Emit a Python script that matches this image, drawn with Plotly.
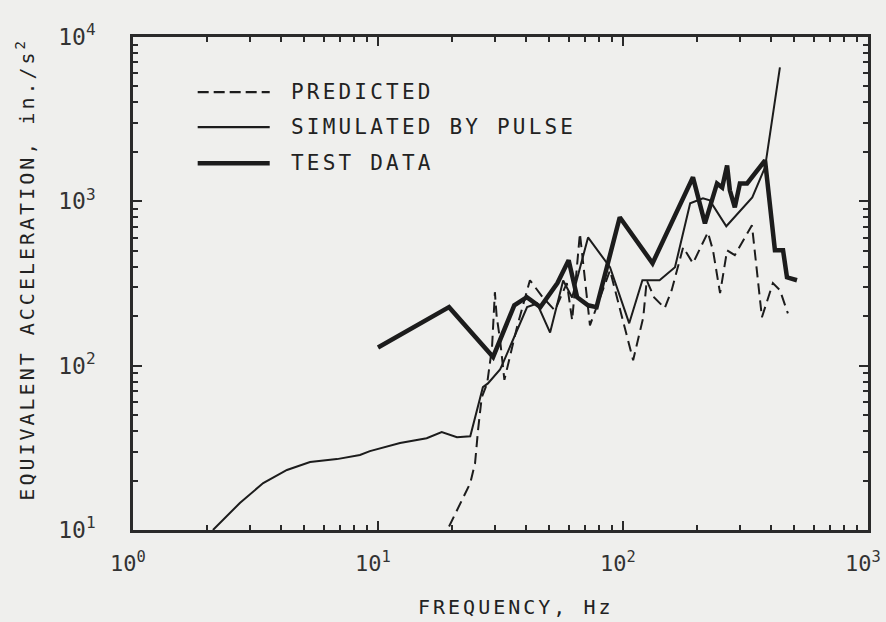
import plotly.graph_objects as go

# ---- data ----
freq_test = [10, 19.5, 29.5, 36, 40.5, 46, 54, 60, 65, 72, 78, 97, 132, 193, 216, 242, 254,
             266, 273, 286, 300, 321, 380, 417, 450, 467, 513]
acc_test = [129, 227, 113, 233, 261, 227, 318, 438, 261, 233, 227, 800, 420, 1400, 735, 1285, 1215,
            1655, 1167, 919, 1285, 1285, 1775, 504, 504, 345, 331]

freq_sim = [2.12, 2.73, 3.4, 4.25, 5.28, 6.8, 8.44, 9.27, 12.3, 15.8, 18.2, 21, 23.8, 25.3, 26.8,
            28.1, 31.5, 32.3, 36.9, 40.6, 44.6, 50.4, 57, 62, 72, 88.5, 106, 120, 141, 163, 188,
            212, 226, 264, 337, 380, 437]
acc_sim = [10, 14.6, 19.3, 23.2, 25.9, 27, 28.6, 30.2, 33.8, 36.2, 39.4, 36.7, 37.2, 53.7, 74,
           78, 95, 103, 164, 227, 239, 159, 330, 260, 603, 397, 181, 331, 331, 397, 972,
           1043, 1014, 705, 1057, 1610, 6530]

freq_pred = [19.5, 21.5, 23.8, 24.9, 25.6, 26.5, 27.9, 29.2, 30, 30.5, 31.5, 32.8, 36.9, 41.7, 47,
             52.7, 59, 62, 66.7, 73.3, 80.5, 88.5, 110, 121, 125, 134, 148, 158, 176, 193, 222,
             233, 249, 266, 286, 336, 369, 409, 437, 471]
acc_pred = [10.5, 14, 19.3, 25.5, 40.5, 64, 78, 129, 280, 200, 143, 82, 171, 331, 261,
            217, 318, 189, 638, 176, 261, 380, 108, 197, 331, 260, 224, 288, 525, 420, 647,
            503, 276, 503, 470, 715, 197, 318, 288, 208]

series_names = ["PREDICTED", "SIMULATED BY PULSE", "TEST DATA"]
major_ticks = [1, 10, 100, 1000]
x_ticktext = ["10<sup>0</sup>", "10<sup>1</sup>", "10<sup>2</sup>", "10<sup>3</sup>"]
y_major = [10, 100, 1000, 10000]
y_ticktext = ["10<sup>1</sup>", "10<sup>2</sup>", "10<sup>3</sup>", "10<sup>4</sup>"]
x_title = "FREQUENCY, Hz"
y_title = "EQUIVALENT ACCELERATION, in./s<sup>2</sup>"

INK = "#1c1c1c"
BG = "#efefed"
FONT = "DejaVu Sans Mono"

def spaced(t, ls):
    return f'<span style="letter-spacing:{ls}px">{t}</span>'

minor_x = [m * 10 ** d for d in range(0, 3) for m in range(2, 10)]
minor_y = [m * 10 ** d for d in range(1, 4) for m in range(2, 10)]

fig = go.Figure()
fig.add_trace(go.Scatter(x=freq_pred, y=acc_pred, mode="lines", name=series_names[0],
                         line=dict(color=INK, width=2, dash="11px,6px")))
fig.add_trace(go.Scatter(x=freq_sim, y=acc_sim, mode="lines", name=series_names[1],
                         line=dict(color=INK, width=2)))
fig.add_trace(go.Scatter(x=freq_test, y=acc_test, mode="lines", name=series_names[2],
                         line=dict(color=INK, width=4.5)))

# legend drawn as paper-space samples + labels
legend_rows = [0.888, 0.817, 0.744]
legend_dash = ["11px,5px", "solid", "solid"]
legend_w = [2.2, 2.2, 4.5]
for name, yy, dsh, w in zip(series_names, legend_rows, legend_dash, legend_w):
    fig.add_shape(type="line", xref="paper", yref="paper", x0=0.088, x1=0.186, y0=yy, y1=yy,
                  line=dict(color=INK, width=w, dash=dsh))
    fig.add_annotation(xref="paper", yref="paper", x=0.212, y=yy, xanchor="left", yanchor="middle",
                       text=spaced(name, 3.2), showarrow=False,
                       font=dict(family=FONT, size=21, color="#222222"))

fig.add_annotation(xref="paper", yref="paper", x=0.521, y=-0.156, xanchor="center", yanchor="middle",
                   text=spaced(x_title, 3), showarrow=False,
                   font=dict(family=FONT, size=20, color="#222222"))
fig.add_annotation(xref="paper", yref="paper", x=-0.147, y=0.53, xanchor="center", yanchor="middle",
                   text=spaced(y_title, 3), textangle=-90, showarrow=False,
                   font=dict(family=FONT, size=20, color="#222222"))

axis_common = dict(type="log", showgrid=False, zeroline=False, showline=True, linewidth=2.5,
                   linecolor="#2a2a2a", mirror="allticks", ticks="inside", ticklen=9, tickwidth=2,
                   tickcolor="#2a2a2a", ticklabeloverflow="allow", automargin=False)

fig.update_xaxes(range=[0, 3], tickmode="array", tickvals=major_ticks, ticktext=x_ticktext,
                 ticklabelstandoff=12, ticklabelshift=-5,
                 tickfont=dict(family=FONT, size=22, color="#333333"),
                 minor=dict(ticks="inside", ticklen=5, tickwidth=1.5, tickcolor="#2a2a2a",
                            tickmode="array", tickvals=minor_x),
                 **axis_common)
fig.update_yaxes(range=[1, 4], tickmode="array", tickvals=y_major, ticktext=y_ticktext,
                 ticklabelstandoff=30,
                 tickfont=dict(family=FONT, size=23, color="#333333"),
                 minor=dict(ticks="inside", ticklen=5, tickwidth=1.5, tickcolor="#2a2a2a",
                            tickmode="array", tickvals=minor_y),
                 **axis_common)

fig.update_layout(width=886, height=622, margin=dict(l=133, r=18, t=37, b=92, autoexpand=False),
                  paper_bgcolor=BG, plot_bgcolor=BG, showlegend=False,
                  font=dict(family=FONT, color="#2a2a2a"))

fig.write_html("out.html")
